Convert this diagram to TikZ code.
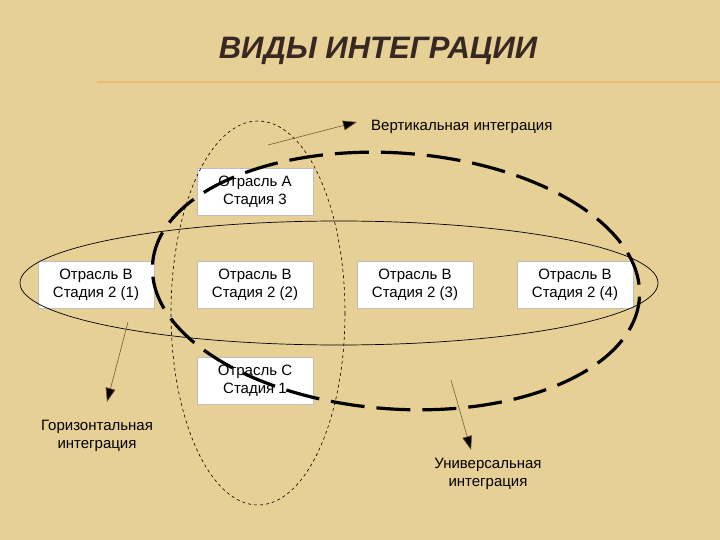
\documentclass[tikz,border=0pt]{standalone}
\usepackage{fontspec}
\setmainfont{Liberation Sans}
\usetikzlibrary{arrows.meta}
\definecolor{paper}{RGB}{230,208,150}
\definecolor{paperline}{RGB}{238,180,100}
\definecolor{thin}{RGB}{120,90,50}
\definecolor{titlec}{RGB}{55,40,35}
\tikzset{
  box/.style={draw=gray!50, fill=white, minimum width=116pt, minimum height=47pt, inner sep=0pt, align=center, font=\fontsize{15}{18}\selectfont},
  lbl/.style={align=center, font=\fontsize{15}{18}\selectfont, inner sep=0pt},
  thinarrow/.style={draw=thin, line width=0.6pt, -{Triangle[length=14pt,width=10pt,fill=black]}},
}
\begin{document}
\begin{tikzpicture}[x=1pt,y=-1pt]
\fill[paper] (0,0) rectangle (720,540);
\useasboundingbox (0,0) rectangle (720,540);
\draw[paperline, line width=1.5pt, opacity=0.7] (97,82) -- (720,82);
\node[font=\fontsize{31}{34}\selectfont\bfseries\itshape, text=titlec, inner sep=0pt] (title) at (378,51) {ВИДЫ ИНТЕГРАЦИИ};
% boxes
\node[box] (a)  at (255,191.5) {Отрасль А\\Стадия 3};
\node[box] (b1) at (96,285) {Отрасль В\\Стадия 2 (1)};
\node[box] (b2) at (255,285) {Отрасль В\\Стадия 2 (2)};
\node[box] (b3) at (415,285) {Отрасль В\\Стадия 2 (3)};
\node[box] (b4) at (575,285) {Отрасль В\\Стадия 2 (4)};
\node[box] (c)  at (255,380.5) {Отрасль С\\Стадия 1};
% ellipses
\coordinate (hc) at (339,283);
\draw[thin, line width=0.7pt] (hc) ellipse [x radius=319, y radius=62];
\coordinate (vc) at (258,313);
\draw[thin, line width=0.6pt, dashed] (vc) ellipse [x radius=87, y radius=192];
\coordinate (uc) at (396,281);
\draw[black, line width=3.2pt, dash pattern=on 34pt off 12pt, rotate around={-4:(uc)}] (uc) ellipse [x radius=244, y radius=128];
% labels
\node[lbl, anchor=west] (vl) at (371,127) {Вертикальная интеграция};
\node[lbl] (hl) at (97,436) {Горизонтальная\\интеграция};
\node[lbl] (ul) at (488,474) {Универсальная\\интеграция};
% arrows
\coordinate (v0) at (268,145);
\coordinate (v1) at (357,122);
\draw[thinarrow] (v0) -- (v1);
\coordinate (h0) at (128,322);
\coordinate (h1) at (107,402);
\draw[thinarrow] (h0) -- (h1);
\coordinate (u0) at (451,380);
\coordinate (u1) at (471,450);
\draw[thinarrow] (u0) -- (u1);
\end{tikzpicture}
\end{document}
